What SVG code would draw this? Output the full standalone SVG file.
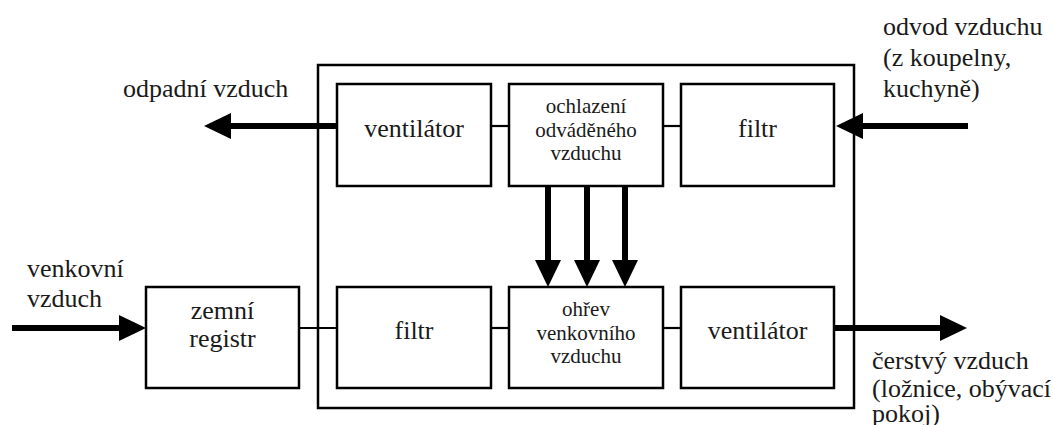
<svg xmlns="http://www.w3.org/2000/svg" width="1053" height="425" viewBox="0 0 1053 425">
  <style>
    .box { fill: #ffffff; stroke: #000000; stroke-width: 2.5; }
    .outer { fill: none; stroke: #000000; stroke-width: 2.5; }
    .thin { stroke: #000000; stroke-width: 2.2; fill: none; }
    .thick { stroke: #000000; stroke-width: 6; fill: none; }
    text { font-family: "Liberation Serif", "Times New Roman", serif; fill: #1a1a1a; }
    .lbl { font-size: 26px; }
    .big { font-size: 26px; text-anchor: middle; }
    .small { font-size: 21px; text-anchor: middle; }
  </style>
  <defs>
    <marker id="arrow" viewBox="0 0 27 26" refX="0" refY="13" markerWidth="27" markerHeight="26" markerUnits="userSpaceOnUse" orient="auto">
      <path d="M0,0 L27,13 L0,26 z" fill="#000000"/>
    </marker>
  </defs>
  <rect width="1053" height="425" fill="#ffffff"/>

  <rect id="unit" class="outer" x="318" y="65" width="536" height="343"/>

  <g id="connectors">
    <line class="thin" x1="491" y1="126" x2="509" y2="126"/>
    <line class="thin" x1="663" y1="126" x2="681" y2="126"/>
    <line class="thin" x1="299" y1="328" x2="337" y2="328"/>
    <line class="thin" x1="491" y1="328" x2="509" y2="328"/>
    <line class="thin" x1="663" y1="328" x2="681" y2="328"/>
    <line class="thick" x1="337" y1="126" x2="231" y2="126" marker-end="url(#arrow)"/>
    <line class="thick" x1="968" y1="126" x2="863" y2="126" marker-end="url(#arrow)"/>
    <line class="thick" x1="12" y1="328" x2="119" y2="328" marker-end="url(#arrow)"/>
    <line class="thick" x1="834" y1="328" x2="940" y2="328" marker-end="url(#arrow)"/>
    <line class="thick" x1="548" y1="186" x2="548" y2="260" marker-end="url(#arrow)"/>
    <line class="thick" x1="587" y1="186" x2="587" y2="260" marker-end="url(#arrow)"/>
    <line class="thick" x1="625" y1="186" x2="625" y2="260" marker-end="url(#arrow)"/>
  </g>

  <g id="ventilator-top">
    <rect class="box" x="337" y="84" width="154" height="102"/>
    <text class="big" x="414" y="137">ventilátor</text>
  </g>
  <g id="ochlazeni">
    <rect class="box" x="509" y="84" width="154" height="102"/>
    <text class="small" x="586" y="113">ochlazení</text>
    <text class="small" x="586" y="137">odváděného</text>
    <text class="small" x="586" y="160">vzduchu</text>
  </g>
  <g id="filtr-top">
    <rect class="box" x="681" y="84" width="153" height="102"/>
    <text class="big" x="757.5" y="137">filtr</text>
  </g>
  <g id="zemni-registr">
    <rect class="box" x="146" y="287" width="153" height="101"/>
    <text class="big" x="222.5" y="319">zemní</text>
    <text class="big" x="222.5" y="347">registr</text>
  </g>
  <g id="filtr-bottom">
    <rect class="box" x="337" y="287" width="154" height="101"/>
    <text class="big" x="414" y="339">filtr</text>
  </g>
  <g id="ohrev">
    <rect class="box" x="509" y="287" width="154" height="101"/>
    <text class="small" x="586" y="316">ohřev</text>
    <text class="small" x="586" y="340">venkovního</text>
    <text class="small" x="586" y="363">vzduchu</text>
  </g>
  <g id="ventilator-bottom">
    <rect class="box" x="681" y="287" width="153" height="101"/>
    <text class="big" x="757.5" y="339">ventilátor</text>
  </g>

  <g id="labels">
    <text class="lbl" x="123" y="97">odpadní vzduch</text>
    <text class="lbl" x="883" y="35">odvod vzduchu</text>
    <text class="lbl" x="883" y="66">(z koupelny,</text>
    <text class="lbl" x="883" y="97">kuchyně)</text>
    <text class="lbl" x="27" y="277">venkovní</text>
    <text class="lbl" x="27" y="307">vzduch</text>
    <text class="lbl" x="872" y="369">čerstvý vzduch</text>
    <text class="lbl" x="872" y="397">(ložnice, obývací</text>
    <text class="lbl" x="872" y="422">pokoj)</text>
  </g>
</svg>
